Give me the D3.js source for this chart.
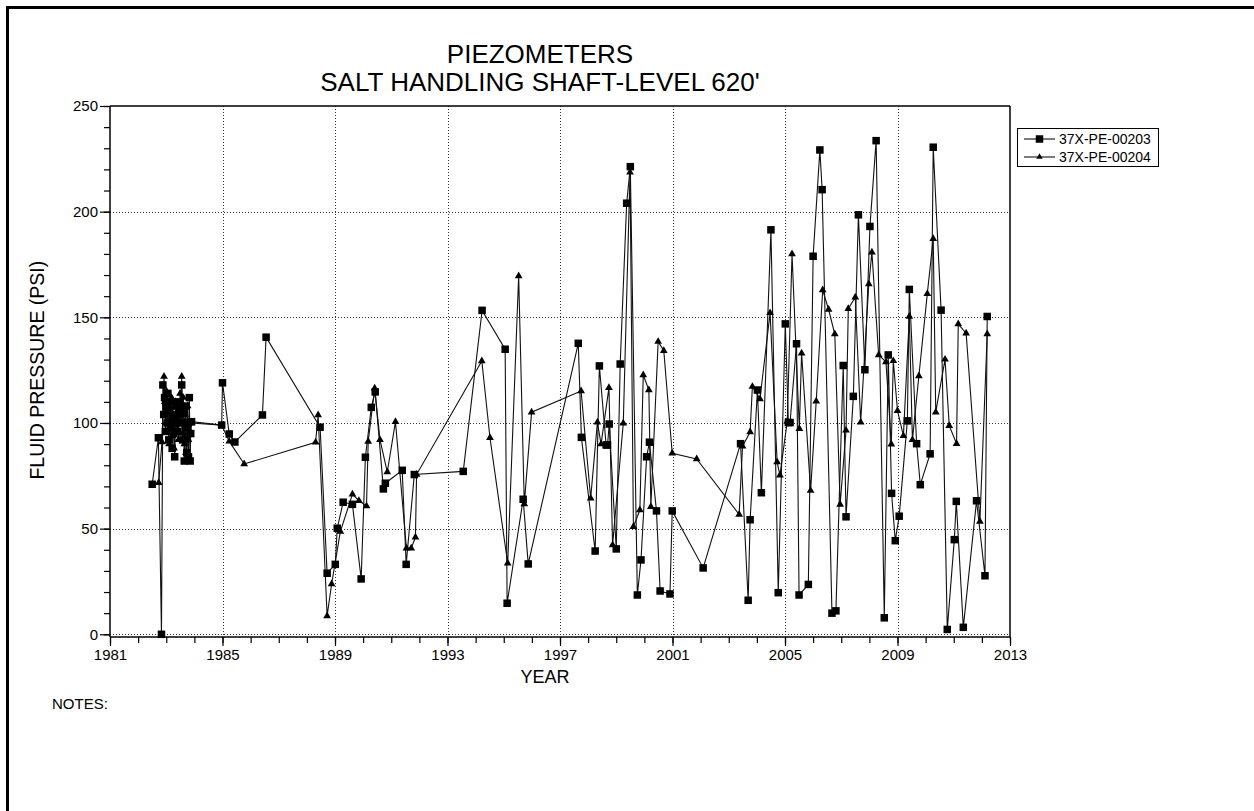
<!DOCTYPE html>
<html>
<head>
<meta charset="utf-8">
<script src="https://cdn.jsdelivr.net/npm/d3@7"></script>
<style>
  html, body { margin: 0; padding: 0; background: #fff; }
  svg { display: block; font-family: "Liberation Sans", Arial, sans-serif; }
</style>
</head>
<body>
<svg id="chart" width="1254" height="811"></svg>
<script>
// ---- DATA (decimal years, PSI) ----
const seriesNames = ["37X-PE-00203", "37X-PE-00204"];

const yearsA = [1982.50,1982.72,1982.83,
  1982.88,1982.91,1982.94,1982.97,1983.00,1983.03,1983.06,1983.09,1983.12,1983.15,1983.18,1983.21,1983.24,1983.27,1983.30,1983.33,1983.36,
  1983.40,1983.43,1983.46,1983.49,1983.52,1983.55,1983.58,1983.61,1983.64,1983.67,1983.70,1983.73,1983.76,1983.79,1983.82,1983.85,1983.87,1983.90,
  1984.97,1985.00,1985.24,1985.44,1986.42,1986.55,1988.47,1988.72,1989.01,1989.08,1989.29,1989.62,1989.93,1990.08,1990.29,1990.43,1990.72,1990.79,1991.39,1991.53,1991.82,1993.56,1994.23,
  1995.05,1995.12,1995.69,1995.87,1997.65,1997.76,1998.25,1998.40,1998.64,1998.69,1998.75,1999.00,1999.14,1999.37,1999.50,1999.75,1999.88,2000.08,2000.18,2000.43,2000.56,2000.91,2000.99,2002.09,
  2003.42,2003.69,2003.76,2004.02,2004.16,2004.50,2004.76,2005.01,2005.12,2005.18,2005.41,2005.50,2005.83,2006.00,2006.24,2006.32,2006.67,2006.81,2007.07,2007.17,2007.43,2007.61,2007.84,2008.02,2008.24,
  2008.53,2008.67,2008.79,2008.92,2009.06,2009.35,2009.42,2009.68,2009.81,2010.16,2010.27,2010.55,2010.77,2011.02,2011.09,2011.34,2011.81,2012.11,2012.19];
const valuesA = [71,93,0,
  118,104,112,96,108,100,114,92,106,98,110,88,102,95,84,100,108,
  96,104,110,100,108,118,92,106,82,98,108,86,100,84,112,82,95,100.6,
  99,119,94.8,91,103.8,140.6,98,28.9,33.1,50.2,62.5,61.5,26.2,83.8,107.4,114.7,68.8,71.5,77.6,33.1,75.6,77.1,153.3,
  134.9,14.7,63.9,33.3,137.7,93.2,39.4,127,89.6,89.6,99.5,40.4,127.9,204,221.3,18.6,35.2,84,90.9,58.4,20.5,19.1,58.4,31.4,
  90.2,16.1,54.2,115.6,67,191.4,19.7,146.9,100.2,100.2,137.5,18.6,23.6,178.9,229.2,210.4,10,11.1,127.2,55.6,112.6,198.5,125.2,193,233.6,
  7.8,132.2,66.7,44.3,55.9,101,163.2,90.2,70.8,85.4,230.5,153.4,2.3,44.8,62.9,3.3,63.2,27.7,150.4];

const yearsB = [1982.73,1982.85,1982.92,
  1982.95,1982.98,1983.01,1983.04,1983.07,1983.10,1983.13,1983.16,1983.19,1983.22,1983.25,1983.28,1983.31,1983.34,1983.37,1983.40,
  1983.43,1983.46,1983.49,1983.52,1983.55,1983.58,1983.61,1983.64,1983.67,1983.70,1983.73,1983.76,1983.79,1983.82,1983.85,1983.90,
  1984.97,1985.24,1985.77,1988.31,1988.40,1988.72,1988.88,1989.19,1989.62,1989.85,1990.12,1990.18,1990.41,1990.60,1990.86,1991.15,1991.54,1991.71,1991.86,1991.90,
  1994.22,1994.51,1995.14,1995.53,1995.73,1995.99,1997.75,1998.09,1998.33,1998.46,1998.74,1998.87,1999.25,1999.49,1999.61,1999.84,1999.96,2000.16,2000.23,2000.49,2000.69,2000.99,2001.86,
  2003.37,2003.49,2003.76,2003.84,2004.11,2004.47,2004.72,2004.82,2005.08,2005.25,2005.51,2005.59,2005.91,2006.11,2006.34,2006.55,2006.77,2006.96,2007.17,2007.25,2007.50,2007.69,2007.98,2008.09,
  2008.33,2008.59,2008.78,2008.85,2009.00,2009.21,2009.42,2009.53,2009.76,2010.06,2010.27,2010.36,2010.69,2010.84,2011.10,2011.16,2011.44,2011.93,2012.19];
const valuesB = [71.7,91,122,
  110,100,115,96,105,90,108,98,112,94,104,88,100,110,96,106,
  92,102,114,108,122,95,112,90,104,86,98,108,92,100,96,100,
  99,91.3,80.6,90.9,103.8,8.7,23.8,48.6,66.3,63.2,60.7,91.2,116.4,92,76.8,100.6,40.7,40.7,45.9,75.6,
  129.3,93,33.6,169.6,61.7,105.1,115.1,64.4,100.3,90,116.7,42.3,99.9,218.6,50.9,58.8,122.7,115.6,60.4,138.5,134.2,85.7,83,
  56.7,89,95.7,117.2,111.4,152.1,81.5,75.3,100.7,180,97.3,133,68,110.3,162.9,153.7,142.1,61.4,96.5,154.1,159.5,100.3,165.8,180.8,
  132.2,128.9,89.9,129.4,105.8,93.9,150.4,92,122.2,161.2,187.2,105.1,130.1,98.7,90.2,146.8,142.5,53.4,142.1];

const xTickYears = [1981,1985,1989,1993,1997,2001,2005,2009,2013];
const yTickValues = [0,50,100,150,200,250];

// ---- CHART ----
const svg = d3.select("#chart");
const L = 110, R = 1010, T = 106, B = 634.3, AX = 637;

const x = d3.scaleLinear().domain([1981, 2013]).range([L, R]);
const y = d3.scaleLinear().domain([0, 250]).range([B, T]);

// outer border
svg.append("rect").attr("x", 7.5).attr("y", 7.5).attr("width", 1270).attr("height", 830)
  .attr("fill", "none").attr("stroke", "#000").attr("stroke-width", 3);

// title
const title = svg.append("text").attr("x", 540).attr("text-anchor", "middle")
  .attr("font-size", 26).attr("fill", "#000");
title.append("tspan").attr("x", 540).attr("y", 63).text("PIEZOMETERS");
title.append("tspan").attr("x", 540).attr("y", 91).text("SALT HANDLING SHAFT-LEVEL 620'");

// gridlines
const grid = svg.append("g").attr("stroke", "#333").attr("stroke-width", 1).attr("stroke-dasharray", "1,2");
grid.selectAll(".gx").data(xTickYears.filter(d => d > 1981 && d < 2013)).join("line")
  .attr("x1", d => Math.round(x(d)) + 0.5).attr("x2", d => Math.round(x(d)) + 0.5)
  .attr("y1", T).attr("y2", AX);
grid.selectAll(".gy").data(yTickValues.filter(d => d < 250)).join("line")
  .attr("x1", L).attr("x2", R)
  .attr("y1", d => Math.round(y(d)) + 0.5).attr("y2", d => Math.round(y(d)) + 0.5);

// frame (top & right) and axis lines
const frame = svg.append("g").attr("stroke", "#000").attr("stroke-width", 1.5);
frame.append("line").attr("x1", L).attr("x2", R).attr("y1", y(250)).attr("y2", y(250));
frame.append("line").attr("x1", R).attr("x2", R).attr("y1", y(250)).attr("y2", AX);
frame.append("line").attr("x1", L).attr("x2", R).attr("y1", AX).attr("y2", AX);
frame.append("line").attr("x1", L).attr("x2", L).attr("y1", y(250)).attr("y2", AX);

// y axis
const yMinor = d3.range(0, 251, 10);
const yAxisMinor = d3.axisLeft(y).tickValues(yMinor).tickSize(6).tickFormat("");
const yAxis = d3.axisLeft(y).tickValues(yTickValues).tickSize(10).tickPadding(2);
const gyMin = svg.append("g").attr("transform", `translate(${L},0)`).call(yAxisMinor);
const gy = svg.append("g").attr("transform", `translate(${L},0)`).call(yAxis);
[gy, gyMin].forEach(g => {
  g.select(".domain").remove();
  g.selectAll("line").attr("stroke", "#000").attr("stroke-width", 1.2);
});
gy.selectAll("text").attr("font-size", 15).attr("fill", "#000")
  .attr("font-family", "Liberation Sans, Arial, sans-serif");

// x axis
const xMinor = d3.range(1981, 2014, 1);
const xAxisMinor = d3.axisBottom(x).tickValues(xMinor).tickSize(6).tickFormat("");
const xAxis = d3.axisBottom(x).tickValues(xTickYears).tickSize(9).tickPadding(3).tickFormat(d3.format("d"));
const gxMin = svg.append("g").attr("transform", `translate(0,${AX})`).call(xAxisMinor);
const gx = svg.append("g").attr("transform", `translate(0,${AX})`).call(xAxis);
[gx, gxMin].forEach(g => {
  g.select(".domain").remove();
  g.selectAll("line").attr("stroke", "#000").attr("stroke-width", 1.2);
});
gx.selectAll("text").attr("font-size", 15).attr("fill", "#000")
  .attr("font-family", "Liberation Sans, Arial, sans-serif");

// axis titles
svg.append("text").attr("transform", `translate(44,${(T + B) / 2}) rotate(-90)`)
  .attr("text-anchor", "middle").attr("font-size", 19.5).text("FLUID PRESSURE (PSI)");
svg.append("text").attr("x", 545).attr("y", 683).attr("text-anchor", "middle")
  .attr("font-size", 18).text("YEAR");
svg.append("text").attr("x", 52).attr("y", 709).attr("font-size", 15).text("NOTES:");

// series
const dataA = yearsA.map((d, i) => ({ x: d, y: valuesA[i] }));
const dataB = yearsB.map((d, i) => ({ x: d, y: valuesB[i] }));
const line = d3.line().x(d => x(d.x)).y(d => y(d.y));

const plot = svg.append("g");
plot.append("path").datum(dataB).attr("d", line).attr("fill", "none")
  .attr("stroke", "#111").attr("stroke-width", 1.1);
plot.append("path").datum(dataA).attr("d", line).attr("fill", "none")
  .attr("stroke", "#111").attr("stroke-width", 1.1);

const tri = d3.symbol().type(d3.symbolTriangle).size(26);
plot.selectAll(".tri").data(dataB).join("path")
  .attr("transform", d => `translate(${x(d.x)},${y(d.y)})`)
  .attr("d", tri).attr("fill", "#000");
const sq = 7.5;
plot.selectAll(".sq").data(dataA).join("rect")
  .attr("x", d => x(d.x) - sq / 2).attr("y", d => y(d.y) - sq / 2)
  .attr("width", sq).attr("height", sq).attr("fill", "#000");

// legend
const lg = svg.append("g");
lg.append("rect").attr("x", 1017.5).attr("y", 128.5).attr("width", 141).attr("height", 38)
  .attr("fill", "#fff").attr("stroke", "#000").attr("stroke-width", 1);
const rows = [139, 157];
rows.forEach((ry, i) => {
  lg.append("line").attr("x1", 1024).attr("x2", 1055).attr("y1", ry).attr("y2", ry)
    .attr("stroke", "#111").attr("stroke-width", 1.1);
  if (i === 0) {
    lg.append("rect").attr("x", 1039.5 - sq / 2).attr("y", ry - sq / 2).attr("width", sq).attr("height", sq).attr("fill", "#000");
  } else {
    lg.append("path").attr("transform", `translate(1039.5,${ry})`).attr("d", d3.symbol().type(d3.symbolTriangle).size(18)).attr("fill", "#000");
  }
  lg.append("text").attr("x", 1059).attr("y", ry + 5).attr("font-size", 14).text(seriesNames[i]);
});
</script>
</body>
</html>
